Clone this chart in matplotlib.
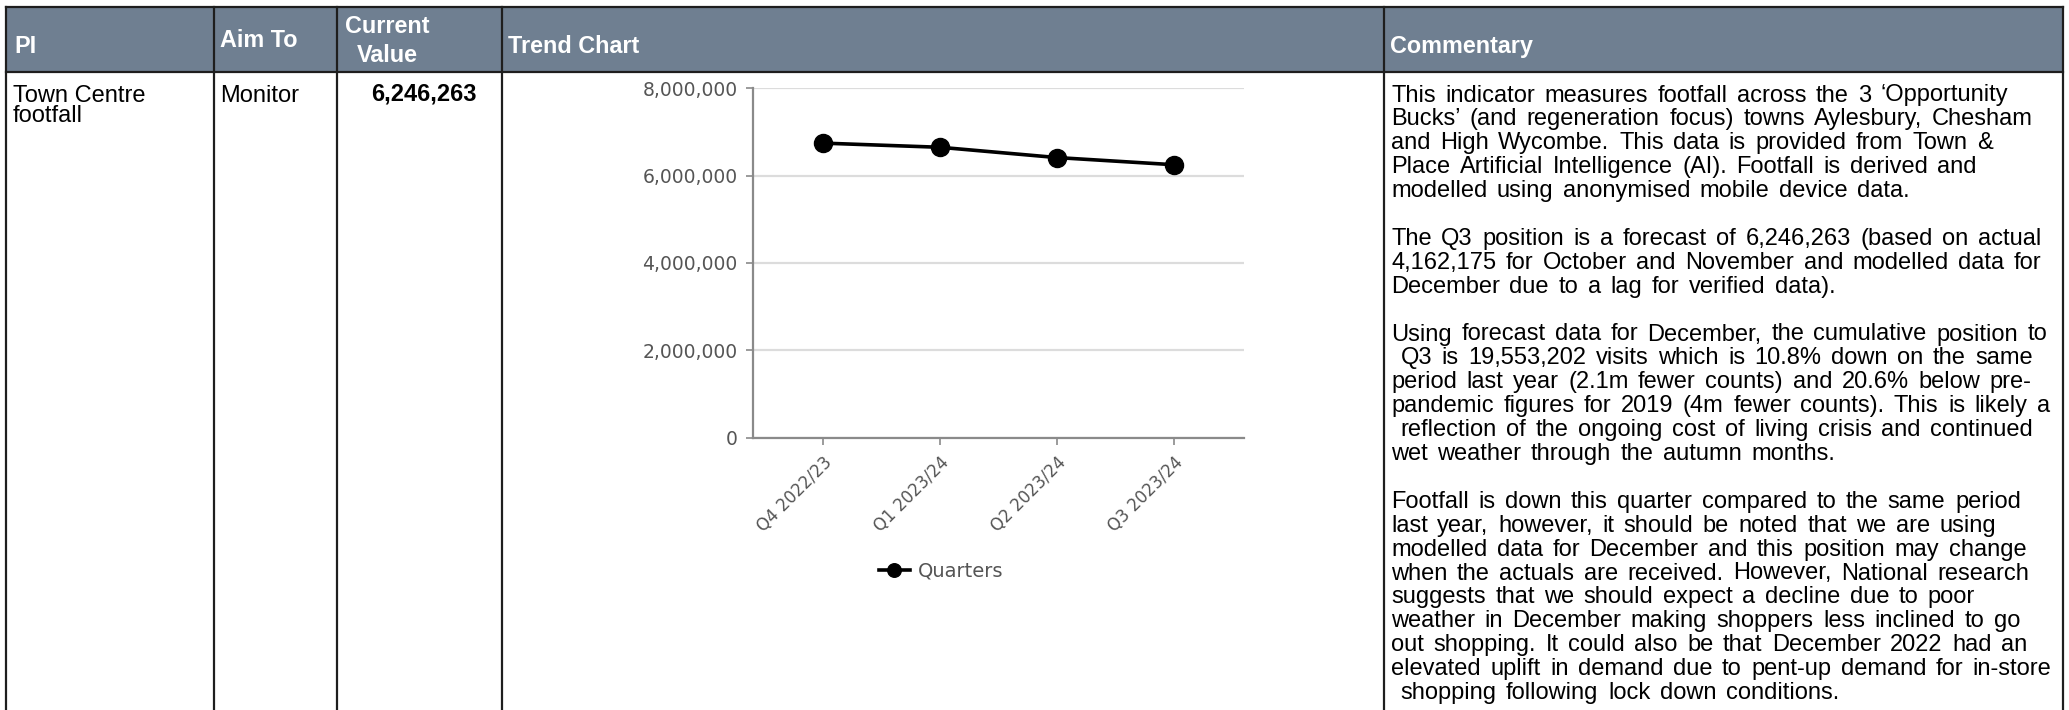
import matplotlib.pyplot as plt
from matplotlib.patches import Rectangle
from matplotlib.ticker import StrMethodFormatter

# chart data
quarters = ["Q4 2022/23", "Q1 2023/24", "Q2 2023/24", "Q3 2023/24"]
footfall = [6740000, 6645000, 6410000, 6246263]
y_ticks = [0, 2000000, 4000000, 6000000, 8000000]

# table text
headers = ["PI", "Aim To", "Current\nValue", "Trend Chart", "Commentary"]
pi_name = ["Town Centre", "footfall"]
aim_to = "Monitor"
current_value = "6,246,263"
commentary = [
    "This indicator measures footfall across the 3 \u2018Opportunity",
    "Bucks\u2019 (and regeneration focus) towns Aylesbury, Chesham",
    "and High Wycombe. This data is provided from Town &",
    "Place Artificial Intelligence (AI). Footfall is derived and",
    "modelled using anonymised mobile device data.",
    "",
    "The Q3 position is a forecast of 6,246,263 (based on actual",
    "4,162,175 for October and November and modelled data for",
    "December due to a lag for verified data).",
    "",
    "Using forecast data for December, the cumulative position to",
    " Q3 is 19,553,202 visits which is 10.8% down on the same",
    "period last year (2.1m fewer counts) and 20.6% below pre-",
    "pandemic figures for 2019 (4m fewer counts). This is likely a",
    " reflection of the ongoing cost of living crisis and continued",
    "wet weather through the autumn months.",
    "",
    "Footfall is down this quarter compared to the same period",
    "last year, however, it should be noted that we are using",
    "modelled data for December and this position may change",
    "when the actuals are received. However, National research",
    "suggests that we should expect a decline due to poor",
    "weather in December making shoppers less inclined to go",
    "out shopping. It could also be that December 2022 had an",
    "elevated uplift in demand due to pent-up demand for in-store",
    " shopping following lock down conditions.",
]

W, H = 2069, 710
fig = plt.figure(figsize=(W / 100, H / 100), dpi=100)
bg = fig.add_axes([0, 0, 1, 1])
bg.set_xlim(0, W)
bg.set_ylim(H, 0)
bg.axis("off")

font = "Liberation Sans"
fs = 17
head_col = "#6f7f91"
line_col = "#1e1e1e"

# table frame
cols = [6, 214, 337, 502, 1384, 2063]
bg.add_patch(Rectangle((cols[0], 7), cols[-1] - cols[0], 65,
                       facecolor=head_col, edgecolor="none"))
bg.plot([cols[0], cols[-1]], [7, 7], color=line_col, lw=1.6)
bg.plot([cols[0], cols[-1]], [72, 72], color=line_col, lw=1.6)
for c in cols:
    bg.plot([c, c], [7, H], color=line_col, lw=1.6)

# header text
hkw = dict(color="white", fontweight="bold", fontsize=16.8, family=font)
bg.text(14, 53, headers[0], va="baseline", **hkw)
bg.text(220, 47, headers[1], va="baseline", **hkw)
bg.text(387, 33, "Current", va="baseline", ha="center", **hkw)
bg.text(387, 62.5, "Value", va="baseline", ha="center", **hkw)
bg.text(508, 53, headers[3], va="baseline", **hkw)
bg.text(1390, 53, headers[4], va="baseline", **hkw)

# row cells
bkw = dict(color="black", fontsize=fs, family=font, va="baseline")
bg.text(13, 101.5, pi_name[0], **bkw)
bg.text(13, 122, pi_name[1], **bkw)
bg.text(220, 101.5, aim_to, **bkw)
bg.text(424, 100, current_value, ha="center", fontweight="bold", **bkw)

# commentary with the wider word spacing of the original
renderer = fig.canvas.get_renderer()
gap = 9.5
for i, line in enumerate(commentary):
    y = 101.5 + i * 23.9
    x = 1391
    for word in line.split(" "):
        if word == "":
            x += gap
            continue
        t = bg.text(x, y, word, **bkw)
        x += t.get_window_extent(renderer).width + gap

# trend chart
x0, x1, y0, y1 = 753, 1244, 438, 88
ax = fig.add_axes([x0 / W, 1 - y0 / H, (x1 - x0) / W, (y0 - y1) / H])
xs = range(len(quarters))
ax.plot(xs, footfall, color="black", lw=2.6, marker="o", markersize=13,
        label="Quarters")
ax.set_xlim(-0.6, 3.6)
ax.set_ylim(0, 8000000)
ax.set_yticks(y_ticks)
ax.yaxis.set_major_formatter(StrMethodFormatter("{x:,.0f}"))
ax.set_xticks(list(xs))
ax.set_xticklabels(quarters, rotation=45, ha="right", va="top",
                   rotation_mode="anchor")
ax.grid(axis="y", color="#dcdcdc", lw=1.6)
ax.set_axisbelow(True)
for s in ["top", "right"]:
    ax.spines[s].set_visible(False)
for s in ["left", "bottom"]:
    ax.spines[s].set_color("#8a8a8a")
    ax.spines[s].set_linewidth(1.6)
ax.tick_params(axis="y", colors="#8a8a8a", labelcolor="#555555",
               labelsize=13.5, length=5, width=1.2, pad=6)
ax.tick_params(axis="x", colors="#8a8a8a", labelcolor="#555555",
               labelsize=12, length=5, width=1.2, pad=6)
ax.legend(loc="center", bbox_to_anchor=(941 / W, 1 - 571 / H),
          bbox_transform=fig.transFigure, frameon=False, fontsize=14,
          markerscale=0.75, handlelength=1.6, handletextpad=0.4,
          labelcolor="#555555")

fig.savefig("out.png", dpi=100)
